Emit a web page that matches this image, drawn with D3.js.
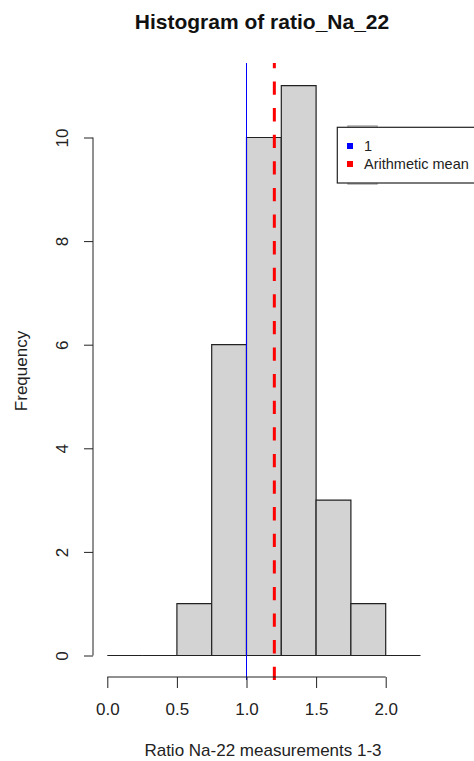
<!DOCTYPE html>
<html>
<head>
<meta charset="utf-8">
<script src="https://cdn.jsdelivr.net/npm/d3@7"></script>
<style>
  body { margin:0; background:#fff; }
  text { font-family: "Liberation Sans", Arial, sans-serif; fill:#222; }
</style>
</head>
<body>
<script>
// histogram bins (breaks) and counts
var binStarts = [0, 0.25, 0.5, 0.75, 1.0, 1.25, 1.5, 1.75, 2.0];
var binWidth = 0.25;
var counts = [0, 0, 1, 6, 10, 11, 3, 1, 0];
var xTicks = [0, 0.5, 1.0, 1.5, 2.0];
var yTicks = [0, 2, 4, 6, 8, 10];
var refLine = 1;
var meanValue = 1.2;
var legendLabels = ['1', 'Arithmetic mean'];
var legendColors = ['blue', 'red'];

var W = 474, H = 761;
var svg = d3.select('body').append('svg').attr('width', W).attr('height', H);

var x = d3.scaleLinear().domain([0, 2]).range([107.3, 385.7]);
var y = d3.scaleLinear().domain([0, 10]).range([655.5, 137.5]);
var plotTop = 63, plotBottom = 680;

// bars (paths so that empty bins still show as a line on the baseline)
svg.append('g').selectAll('path').data(counts).enter().append('path')
  .attr('d', function(d, i){
    var x0 = x(binStarts[i]), x1 = x(binStarts[i] + binWidth);
    return 'M' + x0 + ',' + y(0) + 'V' + y(d) + 'H' + x1 + 'V' + y(0) + 'Z';
  })
  .style('fill', '#d3d3d3').style('stroke', '#222').style('stroke-width', 1.2);

// reference lines
svg.append('line')
  .attr('x1', x(refLine)).attr('x2', x(refLine))
  .attr('y1', plotTop).attr('y2', plotBottom)
  .style('stroke', 'blue').style('stroke-width', 1);
svg.append('line')
  .attr('x1', x(meanValue)).attr('x2', x(meanValue))
  .attr('y1', plotBottom).attr('y2', plotTop)
  .style('stroke', 'red').style('stroke-width', 3).style('stroke-dasharray', '13.3,13.3');

// x axis
var xAxis = d3.axisBottom(x).tickValues(xTicks).tickFormat(d3.format('.1f')).tickSize(11).tickSizeOuter(0);
var gx = svg.append('g').attr('transform', 'translate(0,677)').call(xAxis);
gx.select('.domain').attr('d', 'M' + x(0) + ',0H' + x(2)).style('stroke', '#222');
gx.selectAll('.tick line').style('stroke', '#222');
gx.selectAll('text').attr('y', 26).style('font-size', '17px')
  .style('font-family', '"Liberation Sans", Arial, sans-serif').style('fill', '#222');

// y axis
var yAxis = d3.axisLeft(y).tickValues(yTicks).tickSize(9).tickSizeOuter(0);
var gy = svg.append('g').attr('transform', 'translate(93,0)').call(yAxis);
gy.select('.domain').attr('d', 'M0,' + y(0) + 'V' + y(10)).style('stroke', '#222');
gy.selectAll('.tick line').style('stroke', '#222');
gy.selectAll('text')
  .attr('x', null).attr('dy', null)
  .attr('transform', 'translate(-31,0) rotate(-90)')
  .attr('text-anchor', 'middle').attr('dominant-baseline', 'central')
  .style('font-size', '17px')
  .style('font-family', '"Liberation Sans", Arial, sans-serif').style('fill', '#222');

// titles
svg.append('text').attr('x', 262).attr('y', 29).attr('text-anchor', 'middle')
  .style('font-size', '21px').style('font-weight', 'bold').style('fill', '#111')
  .text('Histogram of ratio_Na_22');
svg.append('text').attr('x', 263).attr('y', 756).attr('text-anchor', 'middle')
  .style('font-size', '17px').text('Ratio Na-22 measurements 1-3');
svg.append('text').attr('transform', 'translate(27,371) rotate(-90)').attr('text-anchor', 'middle')
  .style('font-size', '17px').text('Frequency');

// legend
svg.append('rect').attr('x', 348).attr('y', 126).attr('width', 29).attr('height', 58)
  .style('fill', 'none').style('stroke', '#aaa').style('stroke-width', 1.5);
svg.append('rect').attr('x', 337.3).attr('y', 127.3).attr('width', 160).attr('height', 55.7)
  .style('fill', '#fff').style('stroke', '#222').style('stroke-width', 1.2);
var leg = svg.append('g').selectAll('g').data(legendLabels).enter().append('g')
  .attr('transform', function(d, i){ return 'translate(0,' + (146 + i * 18) + ')'; });
leg.append('rect').attr('x', 347).attr('y', -3).attr('width', 6).attr('height', 6)
  .style('fill', function(d, i){ return legendColors[i]; });
leg.append('text').attr('x', 364).attr('y', 5).style('font-size', '14.5px').text(function(d){ return d; });
</script>
</body>
</html>
